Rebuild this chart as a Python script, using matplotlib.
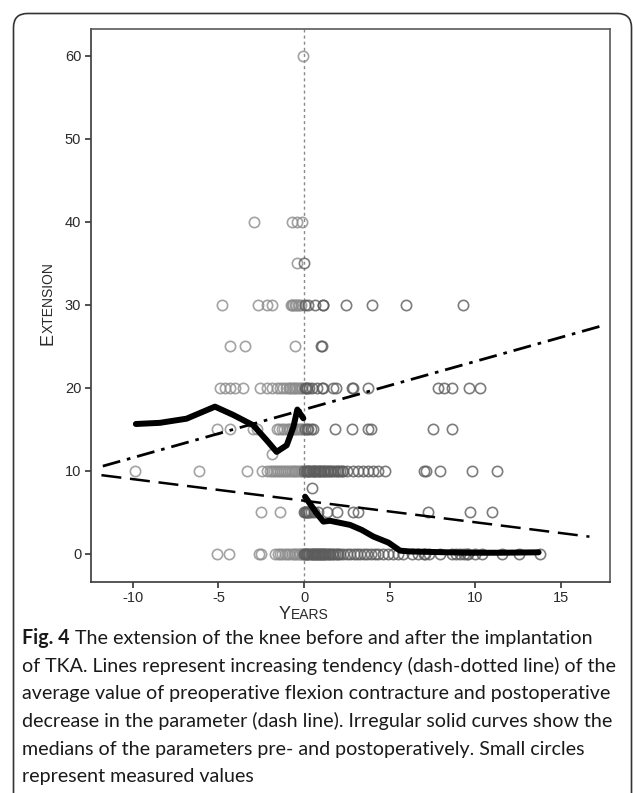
import matplotlib
matplotlib.use('Agg')
import matplotlib.pyplot as plt
from matplotlib.patches import FancyBboxPatch
from matplotlib.transforms import IdentityTransform
from matplotlib import font_manager
import numpy as np

W, H, DPI = 633, 793, 100

# ---------------- data ----------------
ext_levels = [0, 5, 8, 10, 12, 15, 20, 25, 30, 35, 40, 60]

years_ext0 = [-5.11, -4.37, -2.62, -2.52, -1.68, -1.52, -1.4, -1.28, -1.12, -0.98, -0.85,
              -0.72, -0.6, -0.5, -0.4, -0.3, -0.22, -0.14, -0.06,
              0.02, 0.08, 0.14, 0.2, 0.26, 0.32, 0.38, 0.44, 0.5, 0.56, 0.62, 0.68, 0.74,
              0.8, 0.86, 0.92, 0.98, 1.04, 1.1, 1.16, 1.22, 1.3, 1.38, 1.46, 1.54, 1.62,
              1.7, 1.8, 1.9, 2.0, 2.1, 2.3, 2.5, 2.69, 2.9, 3.1, 3.27, 3.5, 3.67, 3.9,
              4.15, 4.35, 4.6, 4.93, 5.2, 5.51, 5.8, 6.3, 6.68, 7.0, 7.08, 7.3, 7.95,
              8.64, 8.9, 9.1, 9.32, 9.5, 9.6, 10.0, 10.39, 11.56, 12.53, 13.8]
years_ext5 = [-2.51, -1.4, 0.02, 0.08, 0.14, 0.2, 0.26, 0.32, 0.4, 0.6, 0.84, 1.36, 1.91,
              2.88, 3.14, 7.27, 9.71, 10.98]
years_ext8 = [0.47]
years_ext10 = [-9.88, -6.12, -3.35, -2.47, -2.15, -2.0, -1.88, -1.76, -1.64, -1.52, -1.4,
               -1.28, -1.16, -1.04, -0.92, -0.8, -0.7, -0.6, -0.5, -0.4, -0.3, -0.2, -0.1,
               0.02, 0.09, 0.16, 0.23, 0.3, 0.37, 0.44, 0.51, 0.58, 0.65, 0.72, 0.79,
               0.86, 0.93, 1.0, 1.08, 1.16, 1.24, 1.32, 1.4, 1.5, 1.6, 1.7, 1.8, 1.9,
               2.0, 2.1, 2.2, 2.3, 2.5, 2.88, 3.18, 3.45, 3.75, 4.05, 4.35, 4.74, 6.98,
               7.13, 7.95, 9.8, 11.27]
years_ext12 = [-1.89]
years_ext15 = [-5.11, -4.33, -2.96, -2.77, -1.6, -1.45, -1.3, -1.15, -1.0, -0.9, -0.8,
               -0.7, -0.6, -0.5, -0.4, -0.3, -0.2, -0.1,
               0.05, 0.15, 0.25, 0.4, 0.5, 1.81, 2.79, 3.76, 3.92, 7.53, 8.64]
years_ext20 = [-4.91, -4.6, -4.3, -4.04, -3.55, -2.57, -2.18, -1.85, -1.6, -1.4, -1.2,
               -1.05, -0.9, -0.8, -0.7, -0.6, -0.5, -0.4, -0.3, -0.2, -0.1,
               0.05, 0.12, 0.2, 0.3, 0.45, 0.74, 1.03, 1.13, 1.71, 1.87, 2.79, 2.88,
               3.76, 7.85, 8.15, 8.64, 9.61, 10.29]
years_ext25 = [-4.3, -3.43, -0.51, 1.0, 1.05]
years_ext30 = [-4.81, -2.67, -2.14, -1.85, -0.78, -0.7, -0.62, -0.54, -0.46, -0.38,
               -0.3, -0.2, 0.06, 0.25, 0.64, 1.09, 1.12, 2.44, 3.98, 5.96, 9.3]
years_ext35 = [-0.39, 0.02]
years_ext40 = [-2.92, -0.68, -0.39, -0.14]
years_ext60 = [-0.05]

rows_years = [years_ext0, years_ext5, years_ext8, years_ext10, years_ext12, years_ext15,
              years_ext20, years_ext25, years_ext30, years_ext35, years_ext40, years_ext60]

# regression lines: (intercept, slope) and x-range
pre_trend_coef = [17.4, 0.58]
pre_trend_range = [-11.75, 17.6]
post_trend_coef = [6.42, -0.26]
post_trend_range = [-11.83, 16.67]

# median curves
pre_median_years = [-9.82, -8.42, -6.86, -5.2, -4.13, -2.96, -2.18, -1.6, -1.01, -0.62, -0.39, -0.04]
pre_median_ext = [15.66, 15.8, 16.3, 17.75, 16.75, 15.5, 13.7, 12.3, 13.1, 15.3, 17.4, 16.35]
post_median_years = [0.06, 0.74, 1.13, 1.52, 2.69, 3.37, 4.05, 4.93, 5.61, 6.2, 9.5, 11.5, 13.7]
post_median_ext = [6.9, 4.9, 3.9, 4.0, 3.5, 2.9, 2.1, 1.37, 0.4, 0.3, 0.15, 0.15, 0.2]

x_ticks = [-10, -5, 0, 5, 10, 15]
y_ticks = [0, 10, 20, 30, 40, 50, 60]

caption_bold = "Fig. 4"
caption_lines = [
    " The extension of the knee before and after the implantation",
    "of TKA. Lines represent increasing tendency (dash-dotted line) of the",
    "average value of preoperative flexion contracture and postoperative",
    "decrease in the parameter (dash line). Irregular solid curves show the",
    "medians of the parameters pre- and postoperatively. Small circles",
    "represent measured values",
]

# ---------------- figure ----------------
avail = {f.name for f in font_manager.fontManager.ttflist}
axis_font = 'Liberation Sans' if 'Liberation Sans' in avail else 'DejaVu Sans'
cap_font = 'Liberation Sans Narrow' if 'Liberation Sans Narrow' in avail else (
    'Lato' if 'Lato' in avail else 'DejaVu Sans')

plt.rcParams['font.family'] = [axis_font, 'DejaVu Sans']

fig = plt.figure(figsize=(W / DPI, H / DPI), dpi=DPI)
fig.patch.set_facecolor('white')

ax_l, ax_r, ax_t, ax_b = 91, 610, 29, 581.7
ax = fig.add_axes([ax_l / W, 1 - ax_b / H, (ax_r - ax_l) / W, (ax_b - ax_t) / H])
ax.set_xlim(-12.44, 17.87)
ax.set_ylim(-3.34, 63.25)

# dotted vertical line at 0
ax.axvline(0, color='#8a8a8a', lw=1.0, ls=(0, (2.2, 2.2)), zorder=1)

# scatter
for lvl, yrs in zip(ext_levels, rows_years):
    yrs = np.asarray(yrs)
    pre = yrs[yrs < 0]
    post = yrs[yrs >= 0]
    ax.plot(pre, np.full(len(pre), lvl), ls='none', marker='o', ms=7.4, mfc='none',
            mec='#8c8c8c', mew=1.2, alpha=0.8, zorder=2)
    ax.plot(post, np.full(len(post), lvl), ls='none', marker='o', ms=7.4, mfc='none',
            mec='#5c5c5c', mew=1.2, alpha=0.8, zorder=2)

# trend lines
xs = np.array(pre_trend_range)
ax.plot(xs, pre_trend_coef[0] + pre_trend_coef[1] * xs, color='black', lw=2.0,
        ls=(0, (6.5, 2.5, 1.3, 2.5)), zorder=3, dash_capstyle='butt')
xs = np.array(post_trend_range)
ax.plot(xs, post_trend_coef[0] + post_trend_coef[1] * xs, color='black', lw=1.8,
        ls=(0, (8, 3.5)), zorder=3, dash_capstyle='butt')

# medians
ax.plot(pre_median_years, pre_median_ext, color='black', lw=4.3, zorder=4,
        solid_joinstyle='round', solid_capstyle='round')
ax.plot(post_median_years, post_median_ext, color='black', lw=4.3, zorder=4,
        solid_joinstyle='round', solid_capstyle='round')

ax.set_xticks(x_ticks)
ax.set_yticks(y_ticks)
ax.set_xticklabels([str(t) for t in x_ticks])
ax.set_yticklabels([str(t) for t in y_ticks])
ax.tick_params(direction='out', length=4.5, width=1.2, color='#333333',
               labelsize=10.5, labelcolor='#2a2a2a', pad=2.5)
for s in ax.spines.values():
    s.set_color('#3a3a3a')
    s.set_linewidth(1.2)
ax.spines['top'].set_color('#5a5a5a')
ax.spines['right'].set_color('#5a5a5a')

# outer rounded frame (pixel coords)
frame = FancyBboxPatch((13.5, -30), 618, H - 13.5 + 30,
                       boxstyle="round,pad=0,rounding_size=14",
                       transform=IdentityTransform(), fill=False,
                       ec='#333333', lw=1.2, zorder=0)
fig.add_artist(frame)

renderer = fig.canvas.get_renderer()


def text_width(s, size, family, weight='normal'):
    t = fig.text(0, 0, s, fontsize=size, family=family, weight=weight)
    w = t.get_window_extent(renderer).width
    t.remove()
    return w


# x label "YEARS" in small caps, centered on x = 0
big_s, small_s = 13.0, 10.0
wb = text_width('Y', big_s, [axis_font])
ws = text_width('EARS', small_s, [axis_font])
x0_px = ax.transData.transform((0, 0))[0]
base_y = H - 619
start = x0_px - (wb + ws) / 2
fig.text(start, base_y, 'Y', fontsize=big_s, transform=IdentityTransform(),
         ha='left', va='baseline', color='#2a2a2a')
fig.text(start + wb, base_y, 'EARS', fontsize=small_s, transform=IdentityTransform(),
         ha='left', va='baseline', color='#2a2a2a')

# y label "EXTENSION" in small caps, rotated
wb = text_width('E', big_s, [axis_font])
ws = text_width('XTENSION', small_s, [axis_font])
base_x = 53
yc = H - 304
y0 = yc - (wb + ws) / 2
fig.text(base_x, y0, 'E', fontsize=big_s, transform=IdentityTransform(), rotation=90,
         rotation_mode='anchor', ha='left', va='baseline', color='#2a2a2a')
fig.text(base_x, y0 + wb, 'XTENSION', fontsize=small_s, transform=IdentityTransform(),
         rotation=90, rotation_mode='anchor', ha='left', va='baseline', color='#2a2a2a')

# caption
target_w = 590.0
w10 = text_width(caption_lines[3], 10, [cap_font])
cap_size = 10 * target_w / w10
cap_x = 22
baselines = [644, 672, 699.5, 727, 754.5, 782]
wbold = text_width(caption_bold, cap_size, [cap_font], weight='bold')
for i, (line, by) in enumerate(zip(caption_lines, baselines)):
    x = cap_x
    if i == 0:
        fig.text(cap_x, H - by, caption_bold, fontsize=cap_size, family=[cap_font],
                 weight='bold', transform=IdentityTransform(), ha='left',
                 va='baseline', color='#1a1a1a')
        x = cap_x + wbold
    fig.text(x, H - by, line, fontsize=cap_size, family=[cap_font],
             transform=IdentityTransform(), ha='left', va='baseline', color='#1a1a1a')

fig.savefig('out.png', dpi=DPI)
